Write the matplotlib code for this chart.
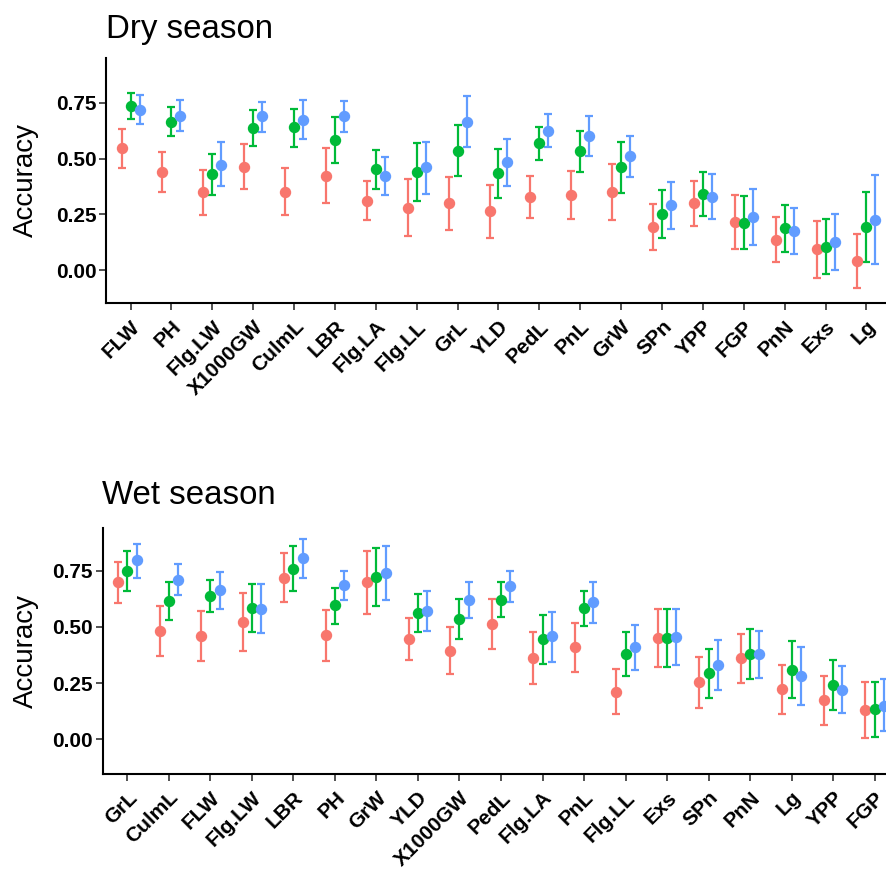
import numpy as np
import matplotlib
matplotlib.use("Agg")
import matplotlib.pyplot as plt

plt.rcParams['font.family'] = ['Liberation Sans', 'DejaVu Sans']

colors = ['#F8766D', '#00BA38', '#619CFF']

# Dry season
dry_traits = ['FLW', 'PH', 'Flg.LW', 'X1000GW', 'CulmL', 'LBR', 'Flg.LA', 'Flg.LL', 'GrL', 'YLD',
              'PedL', 'PnL', 'GrW', 'SPn', 'YPP', 'FGP', 'PnN', 'Exs', 'Lg']
dry_mean = [
    [0.546, 0.438, 0.348, 0.460, 0.351, 0.423, 0.311, 0.278, 0.300, 0.263,
     0.327, 0.338, 0.350, 0.193, 0.299, 0.215, 0.136, 0.093, 0.039],
    [0.737, 0.664, 0.429, 0.635, 0.640, 0.583, 0.451, 0.441, 0.535, 0.433,
     0.568, 0.532, 0.460, 0.252, 0.342, 0.212, 0.188, 0.103, 0.193],
    [0.717, 0.692, 0.472, 0.689, 0.673, 0.689, 0.422, 0.460, 0.665, 0.484,
     0.623, 0.600, 0.511, 0.290, 0.327, 0.236, 0.175, 0.126, 0.226],
]
dry_hi = [
    [0.632, 0.528, 0.448, 0.565, 0.456, 0.546, 0.398, 0.407, 0.418, 0.381,
     0.421, 0.445, 0.474, 0.296, 0.399, 0.336, 0.239, 0.220, 0.161],
    [0.792, 0.730, 0.522, 0.716, 0.723, 0.686, 0.538, 0.571, 0.650, 0.543,
     0.641, 0.625, 0.574, 0.359, 0.439, 0.330, 0.293, 0.230, 0.350],
    [0.783, 0.761, 0.574, 0.755, 0.762, 0.758, 0.507, 0.575, 0.780, 0.589,
     0.698, 0.692, 0.602, 0.396, 0.430, 0.362, 0.280, 0.251, 0.426],
]
dry_lo = [
    [0.459, 0.351, 0.248, 0.362, 0.247, 0.302, 0.224, 0.152, 0.179, 0.143,
     0.233, 0.230, 0.223, 0.090, 0.199, 0.096, 0.034, -0.036, -0.082],
    [0.677, 0.602, 0.335, 0.556, 0.553, 0.478, 0.362, 0.311, 0.421, 0.324,
     0.495, 0.439, 0.345, 0.145, 0.244, 0.093, 0.079, -0.019, 0.036],
    [0.655, 0.623, 0.375, 0.619, 0.586, 0.619, 0.335, 0.342, 0.550, 0.375,
     0.553, 0.510, 0.418, 0.182, 0.227, 0.112, 0.072, 0.000, 0.028],
]

# Wet season
wet_traits = ['GrL', 'CulmL', 'FLW', 'Flg.LW', 'LBR', 'PH', 'GrW', 'YLD', 'X1000GW', 'PedL',
              'Flg.LA', 'PnL', 'Flg.LL', 'Exs', 'SPn', 'PnN', 'Lg', 'YPP', 'FGP']
wet_mean = [
    [0.698, 0.480, 0.460, 0.520, 0.718, 0.463, 0.698, 0.446, 0.394, 0.513,
     0.363, 0.411, 0.212, 0.452, 0.255, 0.363, 0.224, 0.175, 0.130],
    [0.750, 0.614, 0.636, 0.584, 0.756, 0.596, 0.721, 0.563, 0.534, 0.620,
     0.446, 0.583, 0.381, 0.449, 0.294, 0.379, 0.310, 0.243, 0.135],
    [0.796, 0.710, 0.663, 0.581, 0.805, 0.685, 0.737, 0.572, 0.620, 0.681,
     0.457, 0.611, 0.411, 0.454, 0.332, 0.378, 0.283, 0.221, 0.149],
]
wet_hi = [
    [0.790, 0.593, 0.572, 0.651, 0.830, 0.574, 0.838, 0.540, 0.501, 0.625,
     0.479, 0.519, 0.313, 0.577, 0.368, 0.470, 0.332, 0.282, 0.254],
    [0.839, 0.701, 0.709, 0.691, 0.857, 0.674, 0.848, 0.646, 0.624, 0.697,
     0.554, 0.661, 0.479, 0.577, 0.403, 0.491, 0.439, 0.351, 0.256],
    [0.869, 0.778, 0.744, 0.691, 0.891, 0.750, 0.861, 0.657, 0.700, 0.749,
     0.566, 0.701, 0.508, 0.577, 0.443, 0.482, 0.412, 0.326, 0.267],
]
wet_lo = [
    [0.606, 0.371, 0.350, 0.393, 0.608, 0.347, 0.559, 0.353, 0.290, 0.402,
     0.247, 0.301, 0.113, 0.323, 0.141, 0.252, 0.111, 0.065, 0.007],
    [0.660, 0.529, 0.565, 0.477, 0.658, 0.513, 0.592, 0.479, 0.445, 0.544,
     0.336, 0.504, 0.283, 0.320, 0.185, 0.268, 0.182, 0.130, 0.012],
    [0.719, 0.643, 0.581, 0.474, 0.716, 0.621, 0.617, 0.483, 0.541, 0.611,
     0.344, 0.516, 0.310, 0.331, 0.218, 0.271, 0.153, 0.117, 0.036],
]

W, H = 887, 874
fig = plt.figure(figsize=(W / 100, H / 100), dpi=100)


def draw_panel(rect, traits, means, his, los, ylim, title, title_xy):
    ax = fig.add_axes(rect)
    x = np.arange(1, len(traits) + 1)
    offsets = [-0.22, 0.0, 0.22]
    for k in range(3):
        m = np.array(means[k])
        yerr = [m - np.array(los[k]), np.array(his[k]) - m]
        ax.errorbar(x + offsets[k], m, yerr=yerr, fmt='o', color=colors[k],
                    ms=7.2, elinewidth=1.6, capsize=2.6, capthick=1.6)
    ax.set_xlim(0.4, len(traits) + 0.6)
    ax.set_ylim(*ylim)
    ax.set_yticks([0.0, 0.25, 0.5, 0.75])
    ax.set_yticklabels(['0.00', '0.25', '0.50', '0.75'], fontsize=15, fontweight='bold')
    ax.set_xticks(x)
    ax.set_xticklabels(traits, fontsize=15, fontweight='bold', rotation=45,
                       ha='right', va='top', rotation_mode='anchor')
    for s in ['top', 'right']:
        ax.spines[s].set_visible(False)
    for s in ['left', 'bottom']:
        ax.spines[s].set_linewidth(1.5)
    ax.tick_params(length=5, width=1.2, color='#333333')
    ax.tick_params(axis='y', pad=2)
    ax.tick_params(axis='x', pad=5)
    # y-axis title, centred on the panel
    fig.text(39 / W, rect[1] + rect[3] / 2, 'Accuracy', fontsize=20, rotation=90,
             ha='right', va='center')
    fig.text(title_xy[0] / W, 1 - title_xy[1] / H, title, fontsize=23.8, va='baseline', ha='left')
    return ax


draw_panel([106 / W, 1 - 303 / H, 785 / W, 245 / H], dry_traits, dry_mean, dry_hi, dry_lo,
           (-0.148, 0.951), 'Dry season', (106, 38))
draw_panel([102.5 / W, 1 - 774 / H, 797 / W, 246 / H], wet_traits, wet_mean, wet_hi, wet_lo,
           (-0.154, 0.939), 'Wet season', (102, 504))

fig.savefig('out.png', dpi=100)
